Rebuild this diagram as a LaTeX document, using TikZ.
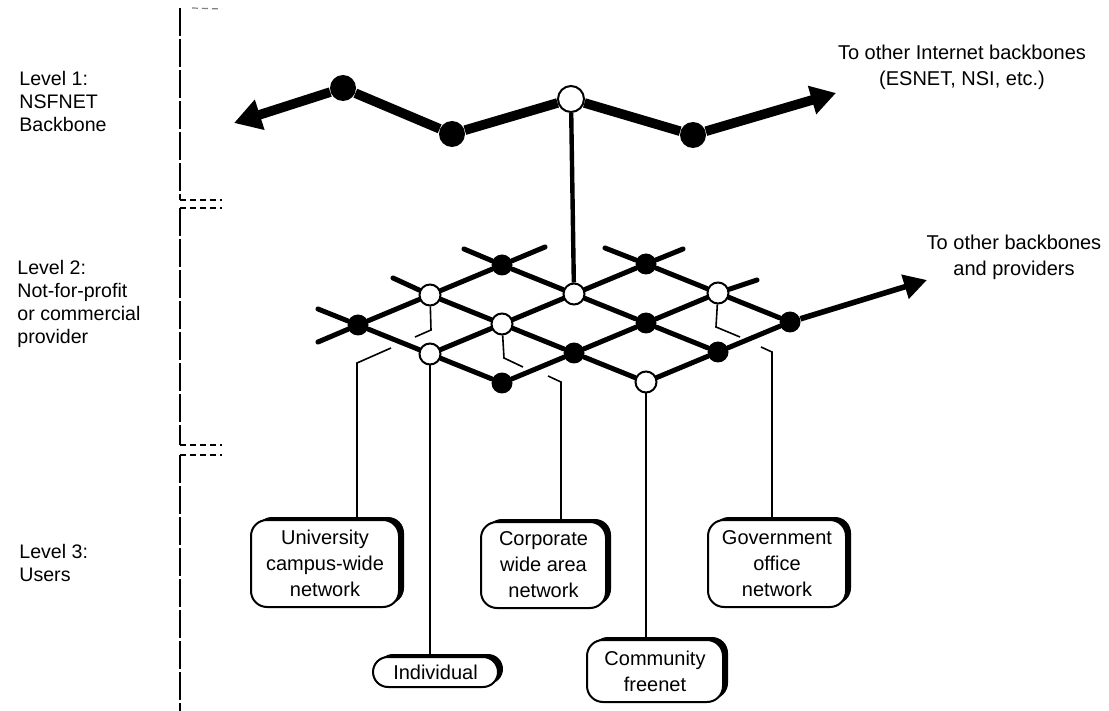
\documentclass[tikz,border=0pt]{standalone}
\usepackage{fontspec}
\setmainfont{Liberation Sans}
\usetikzlibrary{arrows.meta,shadows}
\pgfdeclarelayer{bg}
\pgfsetlayers{bg,main}

\begin{document}
\begin{tikzpicture}[x=0.5pt,y=-0.5pt,font=\fontsize{10}{13}\selectfont,
  blk/.style={circle,fill=black,inner sep=0pt,minimum size=10.5pt},
  wht/.style={circle,draw,line width=1pt,fill=white,inner sep=0pt,minimum size=10.5pt},
  bbblk/.style={blk,minimum size=13pt},
  bbwht/.style={wht,minimum size=13pt},
  bbline/.style={line width=4.8pt},
  gridline/.style={line width=2.5pt,line cap=round},
  drop/.style={line width=0.8pt},
  userbox/.style={draw,line width=1pt,fill=white,rounded corners=8pt,align=center,inner sep=0pt,
    drop shadow={shadow xshift=2.5pt,shadow yshift=1.5pt,fill=black,opacity=1}},
  level/.style={align=left,anchor=west,inner sep=0pt,font=\fontsize{9.8}{11.5}\selectfont},
  vdash/.style={line width=0.6pt,dash pattern=on 14pt off 1.5pt},
  hdash/.style={line width=0.6pt,dash pattern=on 3pt off 2pt}]
\useasboundingbox (0,0) rectangle (1109,711);

\begin{scope}
\draw[vdash] (180,8) -- (180,200);
\draw[hdash] (180,200) -- (222,200);
\draw[hdash] (180,208) -- (222,208);
\draw[vdash] (180,208) -- (180,445);
\draw[hdash] (180,445) -- (222,445);
\draw[hdash] (180,455) -- (222,455);
\draw[vdash] (180,455) -- (180,711);
\draw[hdash,gray] (192,8) -- (222,9);
\end{scope}

\node[level] (lv1) at (19,101) {Level 1:\\NSFNET\\Backbone};
\node[level] (lv2) at (17,304) {Level 2:\\Not-for-profit\\or commercial\\provider};
\node[level] (lv3) at (19,563) {Level 3:\\Users};

\node[align=center] (inet) at (962,67) {To other Internet backbones\\(ESNET, NSI, etc.)};
\node[align=center] (prov) at (1014,257) {To other backbones\\and providers};

\begin{scope}
\node[bbblk] (b1) at (343,88) {};
\node[bbblk] (b2) at (452,134) {};
\node[bbwht] (b3) at (571,99) {};
\node[bbblk] (b4) at (693,135) {};
\coordinate (bl) at (234,123);
\coordinate (br) at (836,93);
\end{scope}

\foreach \i/\j/\s in {0/0/blk,1/0/wht,2/0/blk,0/1/wht,1/1/wht,2/1/wht,3/1/blk,
    0/2/blk,1/2/blk,2/2/blk,3/2/wht,1/3/wht,2/3/blk,3/3/blk}
  \node[\s] (g-\i-\j) at ({358+72*\i+72*\j},{325-30*\i+29*\j}) {};

\coordinate (s1) at (318,342);
\coordinate (s2) at (318,309);
\coordinate (s3) at (393,278);
\coordinate (s4) at (464,249);
\coordinate (s5) at (545,247);
\coordinate (s6) at (605,248);
\coordinate (s7) at (683,249);
\coordinate (s8) at (757,280);
\coordinate (gr) at (927,280);

\node[userbox,minimum width=74pt,minimum height=43.5pt] (uni) at (325,563.5) {University\\campus-wide\\network};
\node[userbox,minimum width=62.5pt,minimum height=43pt] (corp) at (543.5,565) {Corporate\\wide area\\network};
\node[userbox,minimum width=69pt,minimum height=43.5pt] (gov) at (777,563.5) {Government\\office\\network};
\node[userbox,minimum width=68pt,minimum height=31pt] (comm) at (655,671) {Community\\freenet};
\node[userbox,rounded corners=7.5pt,minimum width=62.5pt,minimum height=15pt] (ind) at (435.5,672) {Individual};

\coordinate (uni-a) at (391,348);
\coordinate (uni-b) at (357,363);
\coordinate (corp-a) at (548,376);
\coordinate (corp-b) at (561,382);
\coordinate (gov-a) at (761,347);
\coordinate (gov-b) at (772,352);
\coordinate (hk1a) at (431,330);
\coordinate (hk1b) at (415,337);
\coordinate (hk2a) at (504,358);
\coordinate (hk2b) at (523,367);
\coordinate (hk3a) at (716,327);
\coordinate (hk3b) at (740,337);

\begin{pgfonlayer}{bg}
\draw[bbline,-{Triangle[length=13.5pt,width=15pt]}] (b1) -- (bl);
\draw[bbline] (b1) -- (b2) -- (b3) -- (b4);
\draw[bbline,-{Triangle[length=12.5pt,width=14pt]}] (b4) -- (br);
\draw[line width=2.2pt] (b3) -- (g-2-1);
\foreach \a/\b in {0-0/1-0,1-0/2-0,0-1/1-1,1-1/2-1,2-1/3-1,0-2/1-2,1-2/2-2,2-2/3-2,
    1-3/2-3,2-3/3-3,0-0/0-1,0-1/0-2,1-0/1-1,1-1/1-2,1-2/1-3,2-0/2-1,2-1/2-2,2-2/2-3,
    3-1/3-2,3-2/3-3}
  \draw[gridline] (g-\a) -- (g-\b);
\foreach \n/\s in {0-0/s1,0-0/s2,1-0/s3,2-0/s4,2-0/s5,3-1/s6,3-1/s7,3-2/s8}
  \draw[gridline] (g-\n) -- (\s);
\draw[line width=2.8pt,-{Triangle[length=11.5pt,width=12pt]}] (g-3-3) -- (gr);

\draw[drop] (uni-a) -- (uni-b) -- (uni-b |- uni.north);
\draw[drop] (corp-a) -- (corp-b) -- (corp-b |- corp.north);
\draw[drop] (gov-a) -- (gov-b) -- (gov-b |- gov.north);
\draw[drop] (g-0-1) -- (g-0-1 |- ind.north);
\draw[drop] (g-1-3) -- (g-1-3 |- comm.north);
\draw[drop] (g-1-0) -- (hk1a) -- (hk1b);
\draw[drop] (g-1-1) -- (hk2a) -- (hk2b);
\draw[drop] (g-3-2) -- (hk3a) -- (hk3b);
\end{pgfonlayer}

\end{tikzpicture}
\end{document}
